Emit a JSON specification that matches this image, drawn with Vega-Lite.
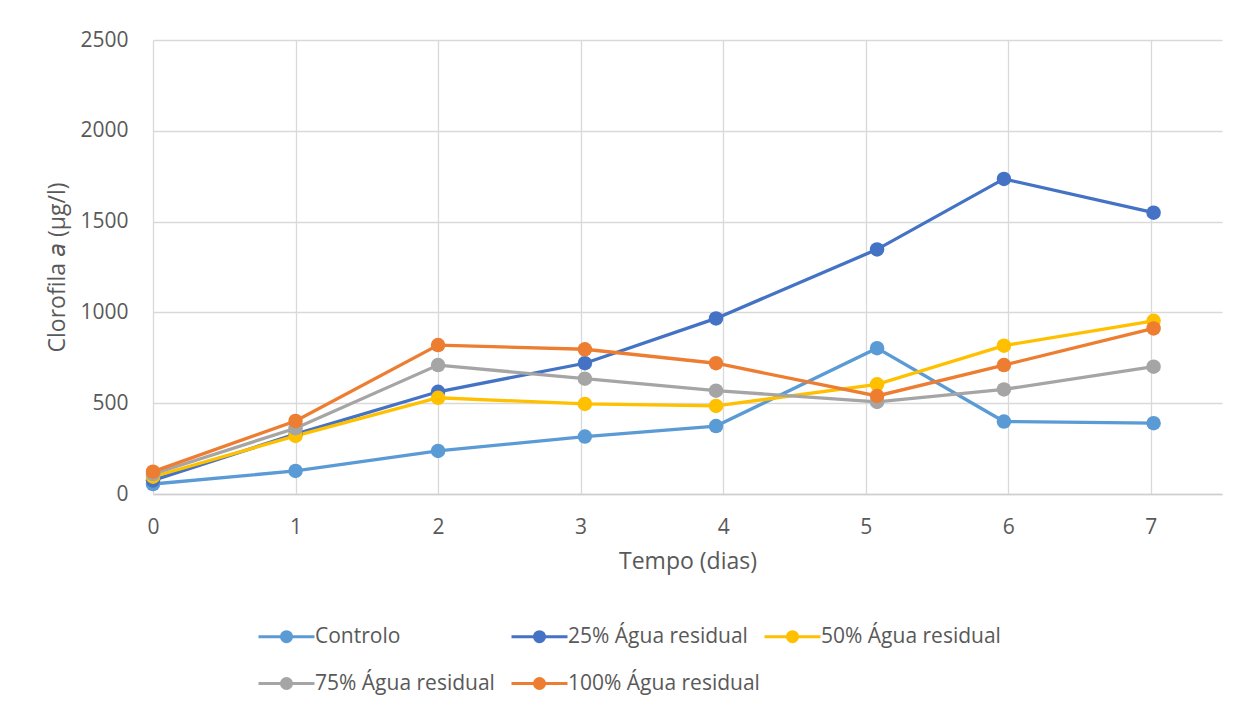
{
  "$schema": "https://vega.github.io/schema/vega-lite/v6.json",
  "width": 1069,
  "height": 454,
  "autosize": {"type": "none"},
  "padding": {"left": 153, "top": 40, "right": 24, "bottom": 215},
  "background": "white",
  "config": {
    "view": {"stroke": null},
    "font": "Open Sans",
    "axis": {
      "labelFont": "Open Sans",
      "titleFont": "Open Sans",
      "labelColor": "#595959",
      "titleColor": "#595959",
      "labelFontSize": 21,
      "titleFontSize": 23,
      "titleFontWeight": "normal",
      "gridColor": "#D9D9D9",
      "gridWidth": 1.3,
      "ticks": false
    },
    "legend": {
      "labelFont": "Open Sans",
      "labelFontSize": 21,
      "labelColor": "#595959"
    }
  },
  "data": {
    "values": [
      {"Tempo": 0, "Clorofila": 55, "Tratamento": "Controlo"},
      {"Tempo": 1, "Clorofila": 127, "Tratamento": "Controlo"},
      {"Tempo": 2, "Clorofila": 237, "Tratamento": "Controlo"},
      {"Tempo": 3.03, "Clorofila": 316, "Tratamento": "Controlo"},
      {"Tempo": 3.95, "Clorofila": 374, "Tratamento": "Controlo"},
      {"Tempo": 5.08, "Clorofila": 803, "Tratamento": "Controlo"},
      {"Tempo": 5.97, "Clorofila": 399, "Tratamento": "Controlo"},
      {"Tempo": 7.02, "Clorofila": 390, "Tratamento": "Controlo"},

      {"Tempo": 0, "Clorofila": 75, "Tratamento": "25% Água residual"},
      {"Tempo": 1, "Clorofila": 330, "Tratamento": "25% Água residual"},
      {"Tempo": 2, "Clorofila": 563, "Tratamento": "25% Água residual"},
      {"Tempo": 3.03, "Clorofila": 720, "Tratamento": "25% Água residual"},
      {"Tempo": 3.95, "Clorofila": 967, "Tratamento": "25% Água residual"},
      {"Tempo": 5.08, "Clorofila": 1347, "Tratamento": "25% Água residual"},
      {"Tempo": 5.97, "Clorofila": 1735, "Tratamento": "25% Água residual"},
      {"Tempo": 7.02, "Clorofila": 1549, "Tratamento": "25% Água residual"},

      {"Tempo": 0, "Clorofila": 95, "Tratamento": "50% Água residual"},
      {"Tempo": 1, "Clorofila": 320, "Tratamento": "50% Água residual"},
      {"Tempo": 2, "Clorofila": 530, "Tratamento": "50% Água residual"},
      {"Tempo": 3.03, "Clorofila": 496, "Tratamento": "50% Água residual"},
      {"Tempo": 3.95, "Clorofila": 485, "Tratamento": "50% Água residual"},
      {"Tempo": 5.08, "Clorofila": 604, "Tratamento": "50% Água residual"},
      {"Tempo": 5.97, "Clorofila": 817, "Tratamento": "50% Água residual"},
      {"Tempo": 7.02, "Clorofila": 954, "Tratamento": "50% Água residual"},

      {"Tempo": 0, "Clorofila": 110, "Tratamento": "75% Água residual"},
      {"Tempo": 1, "Clorofila": 362, "Tratamento": "75% Água residual"},
      {"Tempo": 2, "Clorofila": 710, "Tratamento": "75% Água residual"},
      {"Tempo": 3.03, "Clorofila": 635, "Tratamento": "75% Água residual"},
      {"Tempo": 3.95, "Clorofila": 569, "Tratamento": "75% Água residual"},
      {"Tempo": 5.08, "Clorofila": 507, "Tratamento": "75% Água residual"},
      {"Tempo": 5.97, "Clorofila": 576, "Tratamento": "75% Água residual"},
      {"Tempo": 7.02, "Clorofila": 701, "Tratamento": "75% Água residual"},

      {"Tempo": 0, "Clorofila": 123, "Tratamento": "100% Água residual"},
      {"Tempo": 1, "Clorofila": 402, "Tratamento": "100% Água residual"},
      {"Tempo": 2, "Clorofila": 820, "Tratamento": "100% Água residual"},
      {"Tempo": 3.03, "Clorofila": 797, "Tratamento": "100% Água residual"},
      {"Tempo": 3.95, "Clorofila": 720, "Tratamento": "100% Água residual"},
      {"Tempo": 5.08, "Clorofila": 540, "Tratamento": "100% Água residual"},
      {"Tempo": 5.97, "Clorofila": 710, "Tratamento": "100% Água residual"},
      {"Tempo": 7.02, "Clorofila": 912, "Tratamento": "100% Água residual"}
    ]
  },
  "mark": {
    "type": "line",
    "strokeWidth": 3.3,
    "point": {"filled": true, "size": 210, "opacity": 1}
  },
  "encoding": {
    "x": {
      "field": "Tempo",
      "type": "quantitative",
      "title": "Tempo (dias)",
      "scale": {"domain": [0, 7.5], "nice": false, "zero": false},
      "axis": {
        "values": [0, 1, 2, 3, 4, 5, 6, 7],
        "format": "d",
        "grid": true,
        "domainColor": "#CFCFCF",
        "domainWidth": 1.3,
        "labelPadding": 22,
        "titlePadding": 13,
        "labelFlush": false
      }
    },
    "y": {
      "field": "Clorofila",
      "type": "quantitative",
      "title": "Clorofila 𝘢 (µg/l)",
      "scale": {"domain": [0, 2500], "nice": false},
      "axis": {
        "values": [0, 500, 1000, 1500, 2000, 2500],
        "format": "d",
        "grid": true,
        "domain": false,
        "labelPadding": 25,
        "titlePadding": 10
      }
    },
    "color": {
      "field": "Tratamento",
      "type": "nominal",
      "sort": null,
      "scale": {
        "domain": ["Controlo", "25% Água residual", "50% Água residual", "75% Água residual", "100% Água residual"],
        "range": ["#5B9BD5", "#4472C4", "#FFC000", "#A5A5A5", "#ED7D31"]
      },
      "legend": {
        "title": null,
        "orient": "none",
        "direction": "horizontal",
        "legendX": 104,
        "legendY": 581,
        "columns": 3,
        "gridAlign": "all",
        "columnPadding": -2,
        "rowPadding": 20,
        "symbolType": "M-1,0H3M1.36,0A0.36,0.36,0,1,1,0.64,0A0.36,0.36,0,1,1,1.36,0Z",
        "symbolSize": 784,
        "symbolStrokeWidth": 3,
        "labelOffset": 27,
        "labelLimit": 400,
        "encode": {
          "symbols": {
            "update": {
              "fill": {"scale": "color", "field": "value"},
              "stroke": {"scale": "color", "field": "value"},
              "strokeWidth": {"value": 3},
              "opacity": {"value": 1}
            }
          }
        }
      }
    }
  }
}
